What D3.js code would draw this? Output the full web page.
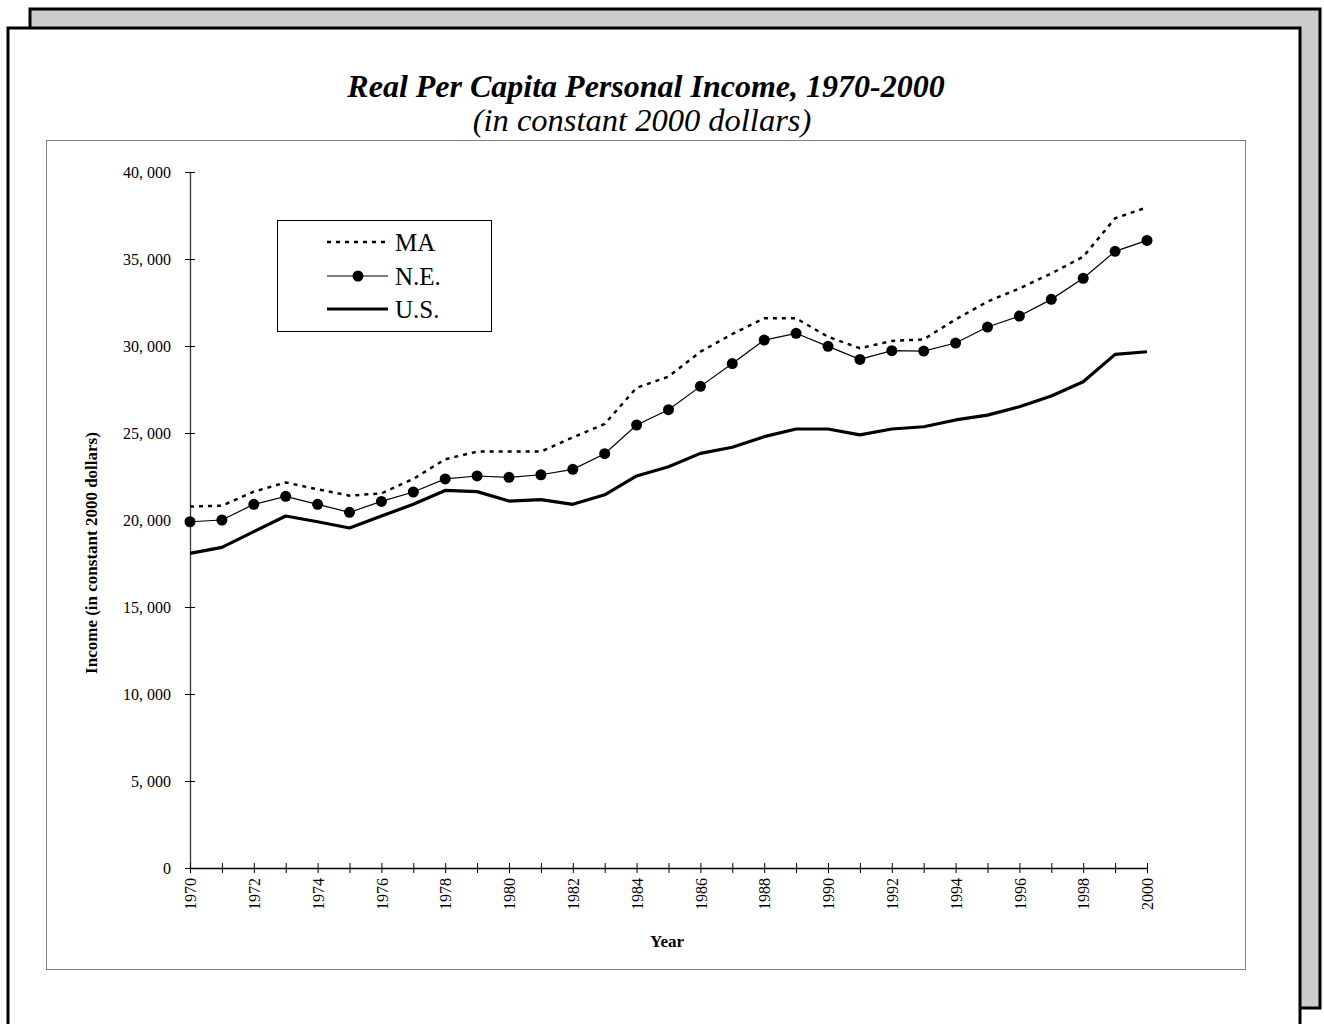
<!DOCTYPE html>
<html>
<head>
<meta charset="utf-8">
<script src="https://cdn.jsdelivr.net/npm/d3@7"></script>
<style>
  html, body { margin: 0; padding: 0; background: #fff; }
  svg text { font-family: "Liberation Serif", "Times New Roman", serif; fill: #000; }
</style>
</head>
<body>
<div id="chart"></div>
<script>
// --- Data ---
const years = d3.range(1970, 2001);
const maValues = [20770, 20820, 21630, 22160, 21760, 21400, 21530, 22360, 23490, 23930,
                  23930, 23930, 24750, 25520, 27600, 28240, 29670, 30690, 31590, 31590,
                  30530, 29870, 30290, 30380, 31530, 32550, 33310, 34170, 35130, 37340, 37970];
const neValues = [19900, 20000, 20900, 21360, 20900, 20440, 21070, 21610, 22360, 22530,
                  22450, 22600, 22910, 23810, 25460, 26340, 27680, 28990, 30340, 30730,
                  29980, 29230, 29730, 29710, 30170, 31090, 31720, 32680, 33890, 35440, 36070];
const usValues = [18080, 18430, 19330, 20230, 19900, 19540, 20230, 20900, 21700, 21630,
                  21090, 21170, 20900, 21450, 22530, 23060, 23830, 24180, 24790, 25230,
                  25230, 24890, 25230, 25360, 25750, 26030, 26510, 27130, 27950, 29520, 29670];
const yTicks = [0, 5000, 10000, 15000, 20000, 25000, 30000, 35000, 40000];
const xTickLabels = d3.range(1970, 2001, 2);
const seriesNames = ["MA", "N.E.", "U.S."];

const titleText = "Real Per Capita Personal Income, 1970-2000";
const subtitleText = "(in constant 2000 dollars)";

// --- Layout ---
const width = 1324, height = 1024;
const plot = { left: 190, right: 1147, top: 172, bottom: 868 };

const svg = d3.select("#chart").append("svg")
    .attr("width", width)
    .attr("height", height);

// page frame with shadow
svg.append("rect")
    .attr("x", 30).attr("y", 9)
    .attr("width", 1290).attr("height", 999)
    .attr("fill", "#cccccc")
    .attr("stroke", "#000").attr("stroke-width", 3);
svg.append("rect")
    .attr("x", 8).attr("y", 28)
    .attr("width", 1292).attr("height", 1020)
    .attr("fill", "#fff")
    .attr("stroke", "#000").attr("stroke-width", 3);

// title
svg.append("text")
    .attr("x", 646).attr("y", 97)
    .attr("text-anchor", "middle")
    .style("font-size", "32px").style("font-weight", "bold").style("font-style", "italic")
    .text(titleText);
svg.append("text")
    .attr("x", 642).attr("y", 131)
    .attr("text-anchor", "middle")
    .style("font-size", "32.5px").style("font-style", "italic")
    .text(subtitleText);

// chart area border
svg.append("rect")
    .attr("x", 46.5).attr("y", 140.5)
    .attr("width", 1199).attr("height", 829)
    .attr("fill", "none")
    .attr("stroke", "#808080").attr("stroke-width", 1);

// --- Scales ---
const x = d3.scaleLinear().domain([1970, 2000]).range([plot.left, plot.right]);
const y = d3.scaleLinear().domain([0, 40000]).range([plot.bottom, plot.top]);

const fmt = v => d3.format(",")(v).replace(",", ", ");

// y axis
const yAxis = svg.append("g")
    .attr("transform", `translate(${plot.left},0)`)
    .call(d3.axisLeft(y).tickValues(yTicks).tickFormat(fmt).tickSize(5).tickSizeOuter(0).tickPadding(14));
yAxis.select(".domain").attr("stroke", "#333").attr("stroke-width", 1.3);
yAxis.selectAll(".tick line").attr("x2", 5).attr("x1", -5).attr("stroke", "#000");
yAxis.selectAll(".tick text")
    .style("font-size", "16px")
    .attr("font-family", null);

// x axis
const xAxis = svg.append("g")
    .attr("transform", `translate(0,${plot.bottom})`)
    .call(d3.axisBottom(x).tickValues(years).tickSize(5).tickSizeOuter(0)
        .tickFormat(d => xTickLabels.includes(d) ? d : ""));
xAxis.select(".domain").attr("stroke", "#000").attr("stroke-width", 1.5);
xAxis.selectAll(".tick line").attr("y1", -5).attr("y2", 5).attr("stroke", "#000");
xAxis.selectAll(".tick text")
    .attr("font-family", null)
    .style("font-size", "16px")
    .attr("transform", "rotate(-90)")
    .attr("text-anchor", "end")
    .attr("x", -10).attr("y", 0).attr("dy", "0.35em");

// axis titles
svg.append("text")
    .attr("transform", "translate(97,553) rotate(-90)")
    .attr("text-anchor", "middle")
    .style("font-size", "17px").style("font-weight", "bold")
    .text("Income (in constant 2000 dollars)");
svg.append("text")
    .attr("x", 667).attr("y", 947)
    .attr("text-anchor", "middle")
    .style("font-size", "17px").style("font-weight", "bold")
    .text("Year");

// --- Lines ---
const line = d3.line().x((d, i) => x(years[i])).y(d => y(d));

svg.append("path")
    .datum(maValues)
    .attr("fill", "none").attr("stroke", "#000")
    .attr("stroke-width", 2.5).attr("stroke-dasharray", "4,5")
    .attr("d", line);

svg.append("path")
    .datum(usValues)
    .attr("fill", "none").attr("stroke", "#000")
    .attr("stroke-width", 3.2).attr("stroke-linejoin", "round")
    .attr("d", line);

svg.append("path")
    .datum(neValues)
    .attr("fill", "none").attr("stroke", "#000")
    .attr("stroke-width", 1.2)
    .attr("d", line);

svg.selectAll(".ne-dot")
    .data(neValues)
    .enter().append("circle")
    .attr("class", "ne-dot")
    .attr("cx", (d, i) => x(years[i]))
    .attr("cy", d => y(d))
    .attr("r", 5.5)
    .attr("fill", "#000");

// --- Legend ---
const legend = svg.append("g").attr("transform", "translate(277,220)");
legend.append("rect")
    .attr("x", 0.5).attr("y", 0.5)
    .attr("width", 214).attr("height", 111)
    .attr("fill", "#fff").attr("stroke", "#000").attr("stroke-width", 1);

const rowY = [22, 56, 89];
const styles = [
    { w: 2.5, dash: "4,5", dot: false },
    { w: 1.2, dash: null, dot: true },
    { w: 3.2, dash: null, dot: false }
];
seriesNames.forEach((name, i) => {
    const s = styles[i];
    legend.append("line")
        .attr("x1", 50).attr("x2", 111)
        .attr("y1", rowY[i]).attr("y2", rowY[i])
        .attr("stroke", "#000").attr("stroke-width", s.w)
        .attr("stroke-dasharray", s.dash);
    if (s.dot) {
        legend.append("circle")
            .attr("cx", 81).attr("cy", rowY[i]).attr("r", 5.5).attr("fill", "#000");
    }
    legend.append("text")
        .attr("x", 118).attr("y", rowY[i] + 9)
        .style("font-size", "25px")
        .text(name);
});
</script>
</body>
</html>
